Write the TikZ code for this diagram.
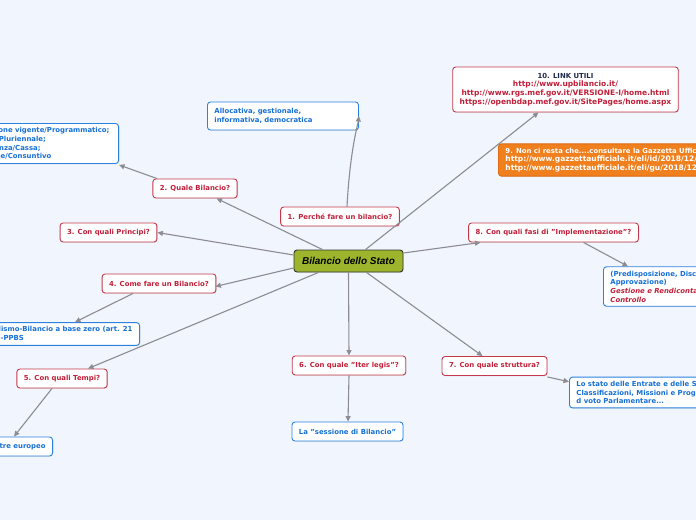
\documentclass[tikz,border=0pt]{standalone}
\usepackage{fontspec}
\setmainfont{DejaVu Sans}
\newfontfamily\arialfont{Liberation Sans}
\usetikzlibrary{arrows.meta,shadows}
\definecolor{bgc}{HTML}{F1F5FD}
\definecolor{rborder}{HTML}{C43A4C}
\definecolor{rtext}{HTML}{C0203A}
\definecolor{bborder}{HTML}{2C82E0}
\definecolor{btext}{HTML}{1670D6}
\definecolor{oborder}{HTML}{E06A10}
\definecolor{ofill}{HTML}{F07F1E}
\definecolor{cfill}{HTML}{9CB52C}
\definecolor{gline}{HTML}{8C8C92}
\definecolor{navy}{HTML}{1C2A4C}
\tikzset{
  basebox/.style={rounded corners=3pt, line width=0.9pt, fill=white,
    font=\fontsize{6.9}{8.7}\selectfont\bfseries, inner xsep=7pt, inner ysep=4pt,
    minimum height=19pt,
    drop shadow={shadow xshift=0.8pt,shadow yshift=-0.8pt,fill=black!18}},
  rbox/.style={basebox, draw=rborder, text=rtext},
  bbox/.style={basebox, draw=bborder, text=btext, align=left},
  obox/.style={basebox, draw=oborder, fill=ofill, text=white, align=left,
    font=\fontsize{7.5}{8.7}\selectfont\bfseries},
  conn/.style={draw=gline, line width=1.1pt, -{Triangle[length=5.5pt,width=5pt]}},
}
\begin{document}
\begin{tikzpicture}[x=1pt,y=-1pt]
\useasboundingbox (0,0) rectangle (696,520);
\fill[bgc] (0,0) rectangle (696,520);
\clip (0,0) rectangle (696,520);

% central
\node[draw=black!80, fill=cfill, rounded corners=3pt, line width=0.9pt,
  minimum width=109pt, minimum height=22pt, inner sep=2pt,
  font=\arialfont\fontsize{10}{12}\selectfont\bfseries\itshape,
  drop shadow={shadow xshift=0.8pt,shadow yshift=-0.8pt,fill=black!18}]
  (c) at (348.5,261) {Bilancio dello Stato};

% questions
\node[rbox] (n1) at (340,216.5) {1. Perch\'e fare un bilancio?};
\node[rbox] (n2) at (195,188.5) {2. Quale Bilancio?};
\node[rbox] (n3) at (108.5,232.5) {3. Con quali Principi?};
\node[rbox] (n4) at (159,283.5) {4. Come fare un Bilancio?};
\node[rbox] (n5) at (62,378.5) {5. Con quali Tempi?};
\node[rbox] (n6) at (349,365.5) {6. Con quale "Iter legis"?};
\node[rbox] (n7) at (494.5,366) {7. Con quale struttura?};
\node[rbox] (n8) at (553.5,232.5) {8. Con quali fasi di "Implementazione"?};

% answers
\node[bbox, anchor=west, text width=137pt, minimum height=28pt] (al) at (207,116) {Allocativa, gestionale,\\informativa, democratica};
\node[bbox, anchor=east, text width=147pt] (tl) at (119,143.5) {Legislazione vigente/Programmatico;\\Annuale/Pluriennale;\\Competenza/Cassa;\\Previsione/Consuntivo};
\node[bbox, anchor=east] (sm) at (140,334) {Incrementalismo-Bilancio a base zero (art. 21\\L.196/2009)-PPBS};
\node[bbox, anchor=east] (se) at (53,446.5) {Il Semestre europeo};
\node[bbox] (ss) at (347.5,431.5) {La "sessione di Bilancio"};
\node[bbox, anchor=west] (ls) at (569,392.5) {Lo stato delle Entrate e delle Spese\\Classificazioni, Missioni e Programmi\\d voto Parlamentare...};
\node[bbox, anchor=west] (pr) at (603,286.5) {(Predisposizione, Discussione e\\Approvazione)\\{\color{rtext}\itshape Gestione e Rendicontazione}\\{\color{rtext}\itshape Controllo}};
\node[obox, anchor=west] (n9) at (498,160) {{\fontsize{6.9}{8.7}\selectfont 9. Non ci resta che....consultare la Gazzetta Ufficiale}\\http://www.gazzettaufficiale.it/eli/id/2018/12/31\\http://www.gazzettaufficiale.it/eli/gu/2018/12/31};
\node[rbox, align=center, font=\fontsize{7.5}{8.7}\selectfont\bfseries, minimum width=223pt, minimum height=45pt] (n10) at (565.5,89.5) {{\fontsize{6.9}{8.7}\selectfont\color{navy}10. LINK UTILI}\\http://www.upbilancio.it/\\http://www.rgs.mef.gov.it/VERSIONE-I/home.html\\https://openbdap.mef.gov.it/SitePages/home.aspx};

% connectors
\draw[conn] ([xshift=-26pt]c.north) -- ([xshift=-21pt]n2.south east);
\draw[conn] ([yshift=6pt]c.west) -- (n3.east);
\draw[conn] ([yshift=-7pt]c.west) -- ([xshift=-1pt,yshift=-3pt]n4.east);
\draw[conn] ([xshift=-30pt]c.south) -- ([xshift=26pt]n5.north);
\draw[conn] (c.south) -- (n6.north);
\draw[conn] ([xshift=18pt]c.south) -- ([xshift=-12pt]n7.north);
\draw[conn] ([yshift=8pt]c.east) -- ([xshift=-73pt]n8.south);
\draw[conn] ([xshift=17pt]c.north) -- ([xshift=-27pt]n10.south);
\draw[conn] ([xshift=7pt]n1.north) .. controls (350,150) and (358,124) .. (al.east);
\draw[conn] ([xshift=-38pt]n2.north) -- ([yshift=-1pt]tl.south east);
\draw[conn] ([xshift=-26pt]n4.south) -- ([xshift=-65pt]sm.north east);
\draw[conn] ([xshift=-10pt]n5.south) -- ([xshift=-39pt]se.north east);
\draw[conn] (n6.south) -- ([xshift=0.5pt]ss.north);
\draw[conn] ([yshift=-1pt]n7.south east) -- ([yshift=-5pt]ls.north west);
\draw[conn] ([xshift=30pt]n8.south) -- ([xshift=25pt]pr.north west);
\end{tikzpicture}
\end{document}
